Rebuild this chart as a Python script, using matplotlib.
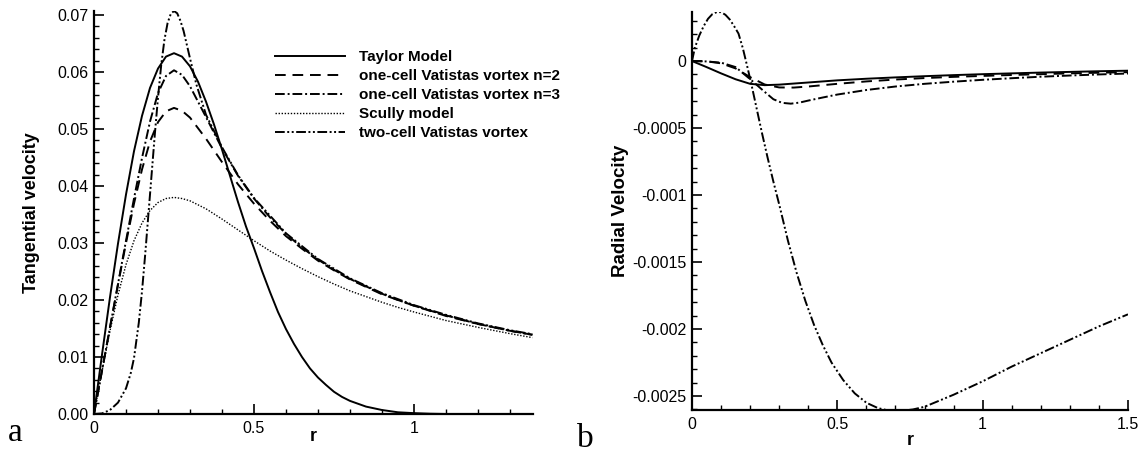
import numpy as np
import matplotlib
matplotlib.use("Agg")
import matplotlib.pyplot as plt
from matplotlib.ticker import MultipleLocator, FixedLocator, FuncFormatter

# ---- datos ----
# (a) velocidad tangencial
r_tan = [0, 0.025, 0.05, 0.075, 0.1, 0.125, 0.15, 0.175, 0.2, 0.225, 0.25, 0.275,
         0.3, 0.35, 0.4, 0.45, 0.5, 0.55, 0.6, 0.65, 0.7, 0.75, 0.8, 0.85, 0.9,
         0.95, 1.0, 1.1, 1.2, 1.3, 1.37]
r_taylor = [0, 0.025, 0.05, 0.075, 0.1, 0.125, 0.15, 0.175, 0.2, 0.225, 0.25,
            0.275, 0.3, 0.325, 0.35, 0.375, 0.4, 0.425, 0.45, 0.475, 0.5, 0.525,
            0.55, 0.575, 0.6, 0.625, 0.65, 0.675, 0.7, 0.725, 0.75, 0.775, 0.8,
            0.85, 0.9, 0.95, 1.0, 1.05, 1.1]
taylor_tan = [0, 0.0104, 0.0205, 0.0299, 0.0385, 0.0461, 0.0523, 0.0572, 0.0606,
              0.0627, 0.0633, 0.0627, 0.0610, 0.0583, 0.0548, 0.0508, 0.0464,
              0.0418, 0.0372, 0.0329, 0.0291, 0.0251, 0.0214, 0.0179, 0.0149,
              0.0123, 0.0100, 0.0080, 0.0064, 0.0051, 0.0039, 0.0030, 0.0023,
              0.0013, 0.0007, 0.0003, 0.00015, 0.00005, 0]
vat2_tan = [0, 0.0076, 0.0152, 0.0227, 0.0300, 0.0369, 0.0429, 0.0478, 0.0512,
            0.0531, 0.0537, 0.0532, 0.0520, 0.0483, 0.0442, 0.0403, 0.0369,
            0.0339, 0.0312, 0.0290, 0.0269, 0.0252, 0.0236, 0.0223, 0.0210,
            0.0200, 0.0190, 0.0172, 0.0158, 0.0146, 0.0139]
vat3_tan = [0, 0.0076, 0.0152, 0.0228, 0.0304, 0.0378, 0.0449, 0.0513, 0.0563,
            0.0593, 0.0603, 0.0595, 0.0575, 0.0521, 0.0466, 0.0418, 0.0378,
            0.0345, 0.0316, 0.0292, 0.0271, 0.0253, 0.0237, 0.0224, 0.0211,
            0.0200, 0.0190, 0.0173, 0.0158, 0.0146, 0.0139]
scully_tan = [0, 0.0075, 0.0146, 0.0209, 0.0262, 0.0304, 0.0335, 0.0357, 0.0371,
              0.0378, 0.0380, 0.0378, 0.0374, 0.0360, 0.0342, 0.0323, 0.0304,
              0.0286, 0.0270, 0.0255, 0.0241, 0.0228, 0.0216, 0.0206, 0.0196,
              0.0187, 0.0179, 0.0164, 0.0152, 0.0141, 0.0134]
r_tan2 = [0, 0.025, 0.05, 0.075, 0.1, 0.115, 0.125, 0.14, 0.15, 0.16, 0.17, 0.18,
          0.19, 0.2, 0.21, 0.22, 0.23, 0.24, 0.25, 0.26, 0.27, 0.28, 0.3, 0.32,
          0.35, 0.4, 0.45, 0.5, 0.6, 0.7, 0.8, 0.9, 1.0, 1.1, 1.2, 1.3, 1.37]
dos_celdas_tan = [0, 0.0001, 0.0007, 0.0020, 0.0045, 0.0072, 0.0098, 0.0160,
                  0.0215, 0.0280, 0.0350, 0.0420, 0.0490, 0.0555, 0.0612, 0.0656,
                  0.0686, 0.0702, 0.0707, 0.0703, 0.0690, 0.0672, 0.0624, 0.0578,
                  0.0525, 0.0468, 0.0419, 0.0379, 0.0317, 0.0272, 0.0238, 0.0212,
                  0.0191, 0.0174, 0.0159, 0.0147, 0.0140]

# (b) velocidad radial, en unidades de 1e-4
r_rad = [0, 0.05, 0.1, 0.15, 0.2, 0.25, 0.3, 0.35, 0.4, 0.5, 0.6, 0.7, 0.8, 0.9,
         1.0, 1.1, 1.2, 1.3, 1.4, 1.5]
taylor_rad = [0, -0.45, -0.92, -1.36, -1.70, -1.80, -1.76, -1.68, -1.60, -1.44,
              -1.32, -1.22, -1.13, -1.05, -0.98, -0.92, -0.86, -0.81, -0.76, -0.72]
vat2_rad = [0, -0.02, -0.17, -0.55, -1.20, -1.75, -1.97, -1.98, -1.90, -1.70,
            -1.52, -1.38, -1.27, -1.18, -1.11, -1.04, -0.98, -0.92, -0.87, -0.83]
r_rad3 = [0, 0.05, 0.1, 0.15, 0.2, 0.25, 0.28, 0.31, 0.34, 0.37, 0.4, 0.45, 0.5,
          0.6, 0.7, 0.8, 0.9, 1.0, 1.1, 1.2, 1.3, 1.4, 1.5]
vat3_rad = [0, -0.03, -0.12, -0.45, -1.35, -2.30, -2.85, -3.12, -3.18, -3.10,
            -2.95, -2.72, -2.50, -2.16, -1.90, -1.70, -1.54, -1.40, -1.28, -1.17,
            -1.08, -1.00, -0.93]
r_rad2 = [0, 0.01, 0.025, 0.04, 0.055, 0.07, 0.085, 0.1, 0.115, 0.13, 0.145, 0.16,
          0.175, 0.19, 0.205, 0.22, 0.24, 0.26, 0.28, 0.3, 0.33, 0.36, 0.39, 0.42,
          0.45, 0.48, 0.52, 0.56, 0.6, 0.64, 0.68, 0.72, 0.76, 0.8, 0.9, 1.0, 1.1,
          1.2, 1.3, 1.4, 1.5]
dos_celdas_rad = [0, 1.0, 1.9, 2.6, 3.15, 3.5, 3.65, 3.65, 3.45, 3.1, 2.6, 2.05,
                  0.95, -0.4, -1.8, -3.3, -5.3, -7.2, -9.0, -10.7, -13.4, -15.8,
                  -17.9, -19.7, -21.2, -22.5, -23.8, -24.8, -25.5, -25.9, -26.1,
                  -26.1, -26.0, -25.8, -24.9, -23.9, -22.8, -21.8, -20.8, -19.8,
                  -18.9]

nombres = ["Taylor Model", "one-cell Vatistas vortex n=2",
           "one-cell Vatistas vortex n=3", "Scully model",
           "two-cell Vatistas vortex"]

# estilos de linea
ls_taylor = "-"
ls_vat2 = (0, (5.5, 3.5))
ls_vat3 = (0, (5, 1.5, 1, 1.5))
ls_scully = (0, (1, 1.2))
ls_dos = (0, (5, 1.3, 1, 1.3, 1, 1.3))

plt.rcParams["font.family"] = ["Liberation Sans", "DejaVu Sans"]

fig = plt.figure(figsize=(11.47, 4.55), dpi=100)
ax1 = fig.add_axes([94 / 1147, 41 / 455, 439 / 1147, 403 / 455])
ax2 = fig.add_axes([692 / 1147, 45 / 455, 436 / 1147, 398 / 455])

lw = 1.4
ax1.plot(r_taylor, taylor_tan, color="black", lw=lw, ls=ls_taylor, label=nombres[0])
ax1.plot(r_tan, vat2_tan, color="black", lw=lw, ls=ls_vat2, label=nombres[1])
ax1.plot(r_tan, vat3_tan, color="black", lw=lw, ls=ls_vat3, label=nombres[2])
ax1.plot(r_tan, scully_tan, color="black", lw=1.0, ls=ls_scully, label=nombres[3])
ax1.plot(r_tan2, dos_celdas_tan, color="black", lw=lw, ls=ls_dos, label=nombres[4])

e4 = 1e-4
ax2.plot(r_rad, np.array(taylor_rad) * e4, color="black", lw=lw, ls=ls_taylor)
ax2.plot(r_rad, np.array(vat2_rad) * e4, color="black", lw=lw, ls=ls_vat2)
ax2.plot(r_rad3, np.array(vat3_rad) * e4, color="black", lw=lw, ls=ls_vat3)
ax2.plot(r_rad2, np.array(dos_celdas_rad) * e4, color="black", lw=lw, ls=ls_dos)

ax1.set_xlim(0, 1.372)
ax1.set_ylim(0, 0.0707)
ax2.set_xlim(0, 1.5)
ax2.set_ylim(-0.002604, 0.000366)

ax1.xaxis.set_major_locator(FixedLocator([0, 0.5, 1]))
ax1.xaxis.set_minor_locator(MultipleLocator(0.1))
ax1.yaxis.set_major_locator(MultipleLocator(0.01))
ax1.yaxis.set_minor_locator(MultipleLocator(0.002))
ax1.xaxis.set_major_formatter(FuncFormatter(lambda v, p: f"{v:g}"))
ax1.yaxis.set_major_formatter(FuncFormatter(lambda v, p: f"{v:.2f}"))

ax2.xaxis.set_major_locator(FixedLocator([0, 0.5, 1, 1.5]))
ax2.xaxis.set_minor_locator(MultipleLocator(0.1))
ax2.yaxis.set_major_locator(FixedLocator([0, -0.0005, -0.001, -0.0015, -0.002, -0.0025]))
ax2.yaxis.set_minor_locator(MultipleLocator(0.0001))
ax2.xaxis.set_major_formatter(FuncFormatter(lambda v, p: f"{v:g}"))
ax2.yaxis.set_major_formatter(FuncFormatter(lambda v, p: f"{round(v, 6):g}"))

for ax in (ax1, ax2):
    ax.spines["top"].set_visible(False)
    ax.spines["right"].set_visible(False)
    ax.spines["left"].set_linewidth(1.6)
    ax.spines["bottom"].set_linewidth(1.6)
    ax.tick_params(which="both", direction="in", top=False, right=False,
                   labelsize=11.5, pad=4)
    ax.tick_params(which="major", length=7, width=1.2)
    ax.tick_params(which="minor", length=3.5, width=1.0)
    ax.tick_params(axis="x", pad=5)

ax1.set_ylabel("Tangential velocity", fontsize=13, fontweight="bold", va="center")
ax1.yaxis.set_label_coords(-0.1435, 0.5)
ax1.set_xlabel("r", fontsize=13, fontweight="bold", va="center")
ax1.xaxis.set_label_coords(0.499, -0.0546)

ax2.set_ylabel("Radial Velocity", fontsize=13.5, fontweight="bold", va="center")
ax2.yaxis.set_label_coords(-0.165, 0.5)
ax2.set_xlabel("r", fontsize=13, fontweight="bold", va="center")
ax2.xaxis.set_label_coords(0.5, -0.0754)

ax1.legend(loc="upper left", bbox_to_anchor=(0.412, 0.903), frameon=False,
           prop={"weight": "bold", "size": 11}, handlelength=4.6,
           handletextpad=0.9, labelspacing=0.33, borderpad=0, borderaxespad=0)

fig.text(8 / 1147, (455 - 441) / 455, "a", fontsize=24, family="Liberation Serif",
         ha="left", va="baseline")
fig.text(577 / 1147, (455 - 447) / 455, "b", fontsize=24, family="Liberation Serif",
         ha="left", va="baseline")

fig.savefig("out.png", dpi=100)
